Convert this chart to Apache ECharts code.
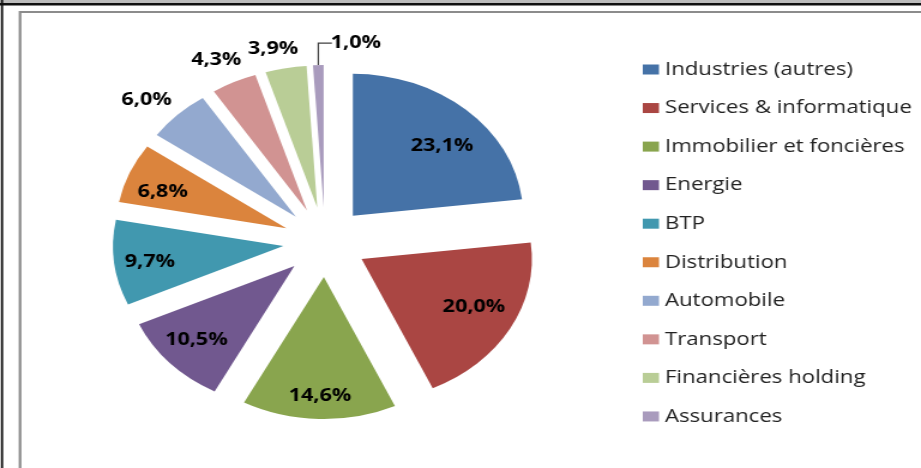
<!DOCTYPE html>
<html>
<head>
<meta charset="utf-8">
<script src="https://cdn.jsdelivr.net/npm/echarts@6/dist/echarts.min.js"></script>
<style>
  html, body { margin: 0; padding: 0; background: #fff; overflow: hidden; }
  /* l'image d'origine est étirée en largeur : on dessine sur 768px puis on étire */
  #chart { width: 768px; height: 468px; transform: scaleX(1.19922); transform-origin: 0 0; }
</style>
</head>
<body>
<div id="chart"></div>
<script>
// secteurs et parts (%)
const sectors = [
  'Industries (autres)',
  'Services & informatique',
  'Immobilier et foncières',
  'Energie',
  'BTP',
  'Distribution',
  'Automobile',
  'Transport',
  'Financières holding',
  'Assurances'
]
const shares = [23.1, 20.0, 14.6, 10.5, 9.7, 6.8, 6.0, 4.3, 3.9, 1.0]

const chart = echarts.init(document.getElementById('chart'))

const fmt = function (p) {
  return p.value.toFixed(1).replace('.', ',') + '%'
}

// les petites parts ont leur étiquette à l'extérieur
const outside = {
  6: { show: false, length: 20, length2: -14 },
  7: { show: false, length: 25, length2: -22 },
  8: { show: false, length: 20, length2: -19 },
  9: { show: true, length: 22, length2: -12, lineStyle: { color: '#404040', width: 1.2 } }
}

// petits décalages des étiquettes intérieures (placement Excel)
const insideShift = {
  0: [0, 14],
  1: [-4, -7],
  2: [0, 7],
  3: [0, -3],
  4: [0, 3],
  5: [0, 7]
}

const labelFont = {
  fontFamily: 'Open Sans',
  fontWeight: 'bold',
  fontSize: 18,
  color: '#000'
}

const center = [271, 242]

const option = {
  animation: false,
  backgroundColor: '#fff',
  color: ['#4572A7', '#AA4643', '#89A54E', '#71588F', '#4198AF',
    '#DB843D', '#93A9CF', '#D19392', '#B9CD96', '#A99BBD'],
  graphic: [
    { type: 'rect', z: -1, shape: { x: 0, y: 0, width: 800, height: 3 }, style: { fill: '#bdbdbd' } },
    { type: 'rect', z: -1, shape: { x: 0, y: 3, width: 800, height: 2.5 }, style: { fill: '#111' } },
    { type: 'rect', z: -1, shape: { x: 0.8, y: 0, width: 1.8, height: 468 }, style: { fill: '#111' } },
    { type: 'rect', z: -1, shape: { x: 16.7, y: 12, width: 1000, height: 1000 }, style: { fill: 'none', stroke: '#8c8c8c', lineWidth: 2.2 } }
  ],
  legend: {
    orient: 'vertical',
    left: 531,
    top: 55,
    icon: 'rect',
    itemWidth: 13.5,
    itemHeight: 10,
    itemGap: 19.55,
    data: sectors,
    textStyle: {
      fontFamily: 'Open Sans',
      fontSize: 18.5,
      color: '#222'
    }
  },
  series: [
    {
      type: 'pie',
      center: center,
      radius: 142,
      startAngle: 90,
      selectedMode: 'multiple',
      selectedOffset: 35,
      avoidLabelOverlap: false,
      emphasis: { disabled: true },
      select: { itemStyle: { borderWidth: 0 } },
      label: Object.assign({ formatter: fmt }, labelFont),
      labelLayout: function (p) {
        // 1,0% : étiquette à droite du trait
        if (p.dataIndex === 9) return { align: 'left', dx: 4 }
      },
      data: sectors.map(function (name, i) {
        const item = { name: name, value: shares[i], selected: true }
        if (i < 6) {
          item.label = { show: false }
          item.labelLine = { show: false }
        } else {
          item.label = { show: true, position: 'outside' }
          item.labelLine = outside[i]
        }
        return item
      })
    },
    {
      // série transparente qui sert seulement à placer les étiquettes intérieures
      type: 'pie',
      center: center,
      radius: 218,
      startAngle: 90,
      silent: true,
      selectedMode: 'multiple',
      selectedOffset: 35,
      avoidLabelOverlap: false,
      emphasis: { disabled: true },
      select: { itemStyle: { borderWidth: 0 } },
      itemStyle: { color: 'rgba(0,0,0,0)' },
      labelLine: { show: false },
      label: Object.assign({ position: 'inside', formatter: fmt }, labelFont),
      labelLayout: function (p) {
        const s = insideShift[p.dataIndex]
        if (s) return { dx: s[0], dy: s[1] }
      },
      data: sectors.map(function (name, i) {
        return { name: name, value: shares[i], selected: true, label: { show: i < 6 } }
      })
    }
  ]
}

chart.setOption(option)
</script>
</body>
</html>
